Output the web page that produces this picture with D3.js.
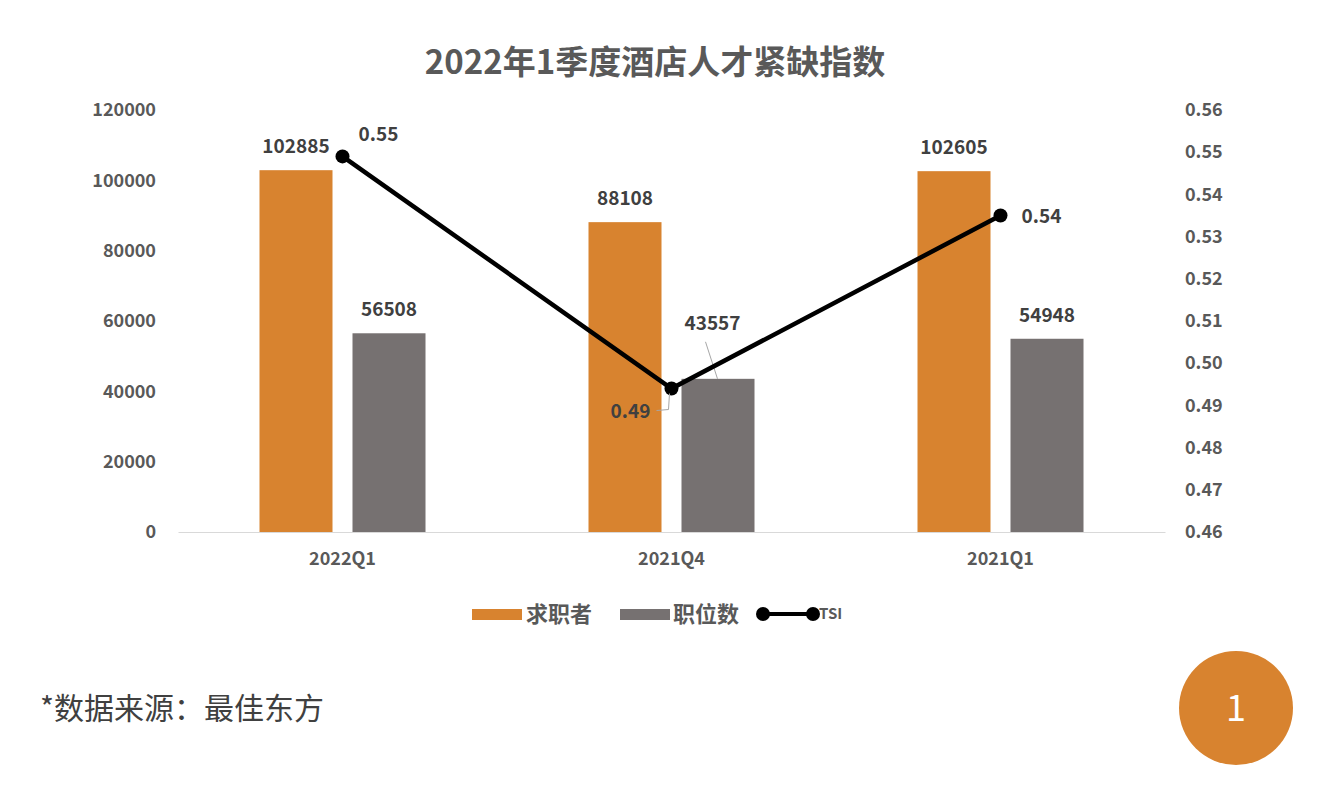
<!DOCTYPE html>
<html><head><meta charset="utf-8">
<script src="https://cdn.jsdelivr.net/npm/d3@7/dist/d3.min.js"></script>
<style>body{margin:0;background:#fff;}svg{display:block;}</style>
</head><body>
<svg id="c" width="1318" height="788"></svg>
<script>
const categories = ["2022Q1", "2021Q4", "2021Q1"];
const seekers = [102885, 88108, 102605];
const positions = [56508, 43557, 54948];
const tsi = [0.549, 0.494, 0.535];
const leftTicks = [0, 20000, 40000, 60000, 80000, 100000, 120000];
const rightTicks = [0.46, 0.47, 0.48, 0.49, 0.50, 0.51, 0.52, 0.53, 0.54, 0.55, 0.56];
const seriesNames = ["求职者", "职位数", "TSI"];

const svg = d3.select("#c");
const font = "'Noto Sans CJK SC','Open Sans',sans-serif";
const ORANGE = "#D8832F", GRAY = "#767171", TXT = "#595959", LBL = "#404040";

const x = d3.scaleBand().domain(categories).range([178, 1165]);
const yL = d3.scaleLinear().domain([0, 120000]).range([532, 110]);
const yR = d3.scaleLinear().domain([0.46, 0.56]).range([532, 110]);
const barW = 73, off = 46.5;

svg.append("text").attr("x", 655).attr("y", 74).attr("text-anchor", "middle")
  .attr("font-family", font).attr("font-size", 33).attr("font-weight", 700).attr("fill", TXT)
  .text("2022年1季度酒店人才紧缺指数");

// left axis
const gL = svg.append("g").attr("transform", "translate(156,0)")
  .call(d3.axisLeft(yL).tickValues(leftTicks).tickSize(0).tickPadding(0).tickFormat(d3.format("d")));
gL.select(".domain").remove();
gL.selectAll("text").attr("font-family", font).attr("font-size", 18).attr("font-weight", 700).attr("fill", TXT);

// right axis
const gR = svg.append("g").attr("transform", "translate(1185,0)")
  .call(d3.axisRight(yR).tickValues(rightTicks).tickSize(0).tickPadding(0).tickFormat(d3.format(".2f")));
gR.select(".domain").remove();
gR.selectAll("text").attr("font-family", font).attr("font-size", 18).attr("font-weight", 700).attr("fill", TXT);

// bottom axis
const gB = svg.append("g").attr("transform", "translate(0,532)")
  .call(d3.axisBottom(x).tickSize(0).tickPadding(20));
gB.select(".domain").attr("stroke", "#d9d9d9").attr("stroke-width", 1.2);
gB.selectAll("text").attr("font-family", font).attr("font-size", 18).attr("font-weight", 700).attr("fill", TXT);

const cx = c => x(c) + x.bandwidth() / 2;

// bars
svg.selectAll(".b1").data(categories).enter().append("rect")
  .attr("x", (c) => cx(c) - off - barW / 2).attr("width", barW)
  .attr("y", (c, i) => yL(seekers[i])).attr("height", (c, i) => yL(0) - yL(seekers[i]))
  .attr("fill", ORANGE);
svg.selectAll(".b2").data(categories).enter().append("rect")
  .attr("x", (c) => cx(c) + off - barW / 2).attr("width", barW)
  .attr("y", (c, i) => yL(positions[i])).attr("height", (c, i) => yL(0) - yL(positions[i]))
  .attr("fill", GRAY);

// bar labels
const lbl = (sel) => sel.attr("font-family", font).attr("font-size", 19).attr("font-weight", 700).attr("fill", LBL).attr("text-anchor", "middle");
categories.forEach((c, i) => {
  lbl(svg.append("text")).attr("x", cx(c) - off).attr("y", yL(seekers[i]) - 17).text(seekers[i]);
  if (i !== 1) lbl(svg.append("text")).attr("x", cx(c) + off).attr("y", yL(positions[i]) - 17).text(positions[i]);
});
// 43557 with leader line
lbl(svg.append("text")).attr("x", cx(categories[1]) + 41).attr("y", yL(positions[1]) - 49).text(positions[1]);
svg.append("path").attr("d", `M${cx(categories[1]) + 34},${yL(positions[1]) - 37} L${cx(categories[1]) + 46},${yL(positions[1])}`)
  .attr("stroke", "#a6a6a6").attr("stroke-width", 1).attr("fill", "none");

// TSI line
const line = d3.line().x((d, i) => cx(categories[i])).y(d => yR(d));
svg.append("path").datum(tsi).attr("d", line).attr("fill", "none").attr("stroke", "#000").attr("stroke-width", 4.5);
svg.selectAll(".dot").data(tsi).enter().append("circle")
  .attr("cx", (d, i) => cx(categories[i])).attr("cy", d => yR(d)).attr("r", 7).attr("fill", "#000");

// TSI labels
const fmt = d3.format(".2f");
lbl(svg.append("text")).attr("x", cx(categories[0]) + 36).attr("y", yR(tsi[0]) - 15).text(fmt(tsi[0]));
lbl(svg.append("text")).attr("x", cx(categories[2]) + 41).attr("y", yR(tsi[2]) + 7).text(fmt(tsi[2]));
lbl(svg.append("text")).attr("x", cx(categories[1]) - 41).attr("y", yR(tsi[1]) + 29).text(fmt(tsi[1]));
svg.append("path").attr("d", `M${cx(categories[1]) - 2},${yR(tsi[1]) + 5} L${cx(categories[1]) - 3},${yR(tsi[1]) + 21} L${cx(categories[1]) - 15},${yR(tsi[1]) + 22}`)
  .attr("stroke", "#a6a6a6").attr("stroke-width", 1).attr("fill", "none");

// legend
const lg = svg.append("g");
lg.append("rect").attr("x", 472).attr("y", 609).attr("width", 50).attr("height", 11).attr("fill", ORANGE);
lg.append("text").attr("x", 526).attr("y", 622).attr("font-family", font).attr("font-size", 22).attr("font-weight", 700).attr("fill", TXT).text(seriesNames[0]);
lg.append("rect").attr("x", 620).attr("y", 609).attr("width", 50).attr("height", 11).attr("fill", GRAY);
lg.append("text").attr("x", 673).attr("y", 622).attr("font-family", font).attr("font-size", 22).attr("font-weight", 700).attr("fill", TXT).text(seriesNames[1]);
lg.append("line").attr("x1", 763).attr("x2", 813).attr("y1", 614).attr("y2", 614).attr("stroke", "#000").attr("stroke-width", 4);
lg.append("circle").attr("cx", 763).attr("cy", 614).attr("r", 7).attr("fill", "#000");
lg.append("circle").attr("cx", 813).attr("cy", 614).attr("r", 7).attr("fill", "#000");
lg.append("text").attr("x", 819).attr("y", 619).attr("font-family", font).attr("font-size", 15).attr("font-weight", 700).attr("fill", TXT).text(seriesNames[2]);

// footnote
svg.append("text").attr("x", 40).attr("y", 719).attr("font-family", font).attr("font-size", 30).attr("fill", "#404040").text("*数据来源：最佳东方");

// badge
svg.append("circle").attr("cx", 1236).attr("cy", 708).attr("r", 57).attr("fill", ORANGE);
svg.append("text").attr("x", 1236).attr("y", 721).attr("text-anchor", "middle").attr("font-family", font).attr("font-size", 36).attr("fill", "#fff").text("1");
</script>
</body></html>
